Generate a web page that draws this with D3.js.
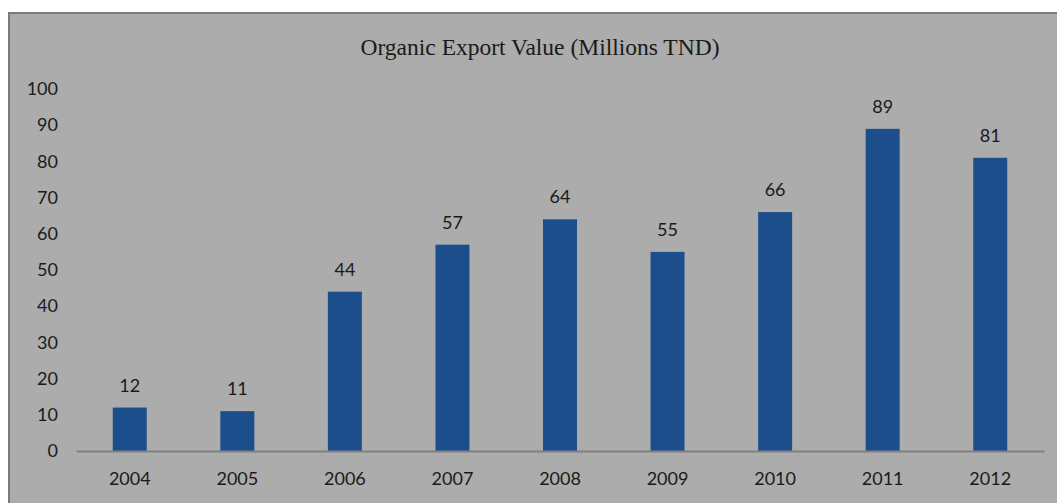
<!DOCTYPE html>
<html>
<head>
<meta charset="utf-8">
<script src="https://cdn.jsdelivr.net/npm/d3@7"></script>
<style>
  html, body { margin: 0; padding: 0; background: #ffffff; }
  svg { display: block; }
</style>
</head>
<body>
<svg id="chart" width="1057" height="503"></svg>
<script>
// Organic export value by year (millions TND)
const years = ["2004", "2005", "2006", "2007", "2008", "2009", "2010", "2011", "2012"];
const values = [12, 11, 44, 57, 64, 55, 66, 89, 81];
const yTicks = [0, 10, 20, 30, 40, 50, 60, 70, 80, 90, 100];
const title = "Organic Export Value (Millions TND)";

const svg = d3.select("#chart");
const W = 1057, H = 503;
const labelFont = "Lato, 'Open Sans', sans-serif";

// chart area frame
svg.append("rect")
  .attr("x", 9).attr("y", 13)
  .attr("width", W + 10).attr("height", H + 10)
  .attr("fill", "#acacac")
  .attr("stroke", "#7a7a7a")
  .attr("stroke-width", 2);

const x = d3.scaleBand()
  .domain(years)
  .range([76, 1044])
  .paddingInner(0.684)
  .paddingOuter(0.342);

const y = d3.scaleLinear()
  .domain([0, 100])
  .range([451, 89]);

// title
svg.append("text")
  .attr("x", 540).attr("y", 55)
  .attr("text-anchor", "middle")
  .attr("font-family", "'Liberation Serif', 'Times New Roman', serif")
  .attr("font-size", 23.5)
  .attr("fill", "#1a1a1a")
  .text(title);

// y axis labels (no axis line)
const yAxis = d3.axisLeft(y).tickValues(yTicks).tickSize(0).tickPadding(0);
const gy = svg.append("g").attr("transform", "translate(58,0)").call(yAxis);
gy.select(".domain").remove();
gy.selectAll("text")
  .attr("font-family", labelFont)
  .attr("font-size", 18)
  .attr("fill", "#1a1a1a");

// bars
svg.append("g").selectAll("rect")
  .data(values)
  .join("rect")
  .attr("x", (d, i) => x(years[i]))
  .attr("y", d => y(d))
  .attr("width", x.bandwidth())
  .attr("height", d => y(0) - y(d))
  .attr("fill", "#1c4e8b");

// value labels
svg.append("g").selectAll("text")
  .data(values)
  .join("text")
  .attr("x", (d, i) => x(years[i]) + x.bandwidth() / 2)
  .attr("y", d => y(d) - 16)
  .attr("text-anchor", "middle")
  .attr("font-family", labelFont)
  .attr("font-size", 18)
  .attr("fill", "#1a1a1a")
  .text(d => d);

// x axis
const xAxis = d3.axisBottom(x).tickSize(0).tickPadding(21);
const gx = svg.append("g").attr("transform", `translate(0,${y(0)})`).call(xAxis);
gx.select(".domain").attr("stroke", "#808080").attr("stroke-width", 2);
gx.selectAll("text")
  .attr("font-family", labelFont)
  .attr("font-size", 18)
  .attr("fill", "#1a1a1a");
</script>
</body>
</html>
